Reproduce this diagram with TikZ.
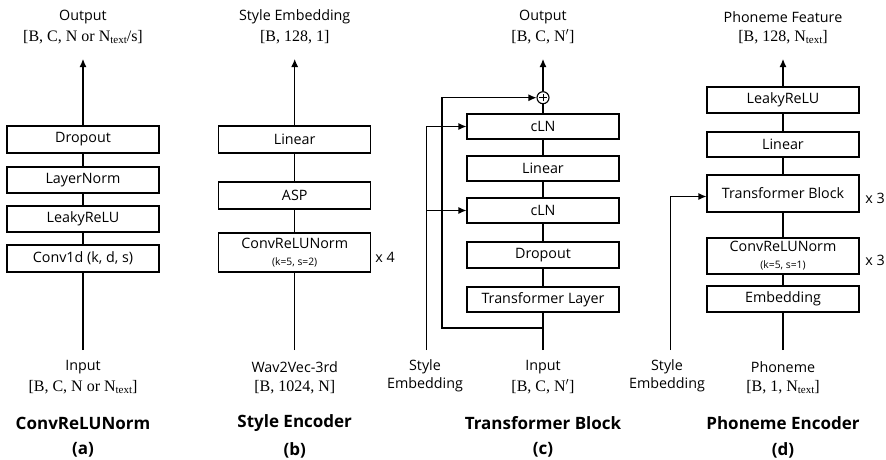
\documentclass[tikz,border=0pt]{standalone}
\usepackage{fontspec}
\newfontfamily\nsans{Open Sans}
\newfontfamily\mser{Liberation Serif}
\newcommand{\sbt}[1]{\raisebox{-2.7pt}{\fontsize{11}{12}\selectfont #1}}
\usetikzlibrary{arrows.meta}
\begin{document}
\begin{tikzpicture}[x=1pt,y=-1pt,
  every node/.style={font=\nsans\fontsize{14.3}{17}\selectfont, inner sep=0pt},
  blk/.style={draw, line width=1.1pt, minimum width=152pt, align=center},
  ln/.style={line width=1.1pt},
  arr/.style={line width=1.1pt, -{Latex[length=8pt,width=7pt]}},
  ttl/.style={font=\nsans\bfseries\fontsize{17}{20}\selectfont},
  mth/.style={font=\mser\fontsize{16}{17}\selectfont},
  sml/.style={font=\nsans\fontsize{10.3}{12}\selectfont},
  rep/.style={font=\nsans\fontsize{14.3}{17}\selectfont}]
\useasboundingbox (0,0) rectangle (886,459);

% ---------------- (a) ConvReLUNorm ----------------
\node[blk, minimum height=27pt] (a_drop) at (83,139.5) {Dropout};
\node[blk, minimum height=26pt] (a_ln) at (83,180) {LayerNorm};
\node[blk, minimum height=26pt] (a_lr) at (83,219) {LeakyReLU};
\node[blk, minimum height=27pt] (a_conv) at (83,258.5) {Conv1d (k, d, s)};
\coordinate (a_in) at (83,350);
\coordinate (a_top) at (83,59);
\node (a_out) at (83,17) {Output};
\node[mth] (a_outd) at (83,37) {[B, C, N or N\sbt{text}/s]};
\node (a_inl) at (83,367) {Input};
\node[mth] (a_ind) at (83,387) {[B, C, N or N\sbt{text}]};
\node[ttl] (a_t) at (83,423) {ConvReLUNorm};
\node[ttl] (a_l) at (83,450) {(a)};
\draw[ln] (a_in) -- (a_conv);
\draw[ln] (a_conv) -- (a_lr);
\draw[ln] (a_lr) -- (a_ln);
\draw[ln] (a_ln) -- (a_drop);
\draw[arr] (a_drop) -- (a_top);

% ---------------- (b) Style Encoder ----------------
\node[blk, minimum height=27pt] (b_lin) at (294.7,139.5) {Linear};
\node[blk, minimum height=27pt] (b_asp) at (294.7,195.5) {ASP};
\node[blk, minimum height=39pt] (b_crn) at (294.7,252.5) {ConvReLUNorm\\[0pt]{\fontsize{10.3}{12}\selectfont (k=5, s=2)}};
\node[rep] (b_x) at (385,257) {x 4};
\coordinate (b_in) at (294.7,350);
\coordinate (b_top) at (294.7,59);
\node (b_out) at (294.7,17) {Style Embedding};
\node[mth] (b_outd) at (294.7,37) {[B, 128, 1]};
\node (b_inl) at (294.7,367) {Wav2Vec-3rd};
\node[mth] (b_ind) at (294.7,387) {[B, 1024, N]};
\node[ttl] (b_t) at (294.7,423) {Style Encoder};
\node[ttl] (b_l) at (294.7,450) {(b)};
\draw[ln] (b_in) -- (b_crn);
\draw[ln] (b_crn) -- (b_asp);
\draw[ln] (b_asp) -- (b_lin);
\draw[arr] (b_lin) -- (b_top);

% ---------------- (c) Transformer Block ----------------
\node[blk, minimum height=25pt] (c_cln1) at (543,126.5) {cLN};
\node[blk, minimum height=25pt] (c_lin) at (543,168.5) {Linear};
\node[blk, minimum height=25pt] (c_cln2) at (543,210.5) {cLN};
\node[blk, minimum height=26pt] (c_drop) at (543,255) {Dropout};
\node[blk, minimum height=25pt] (c_tl) at (543,299.5) {Transformer Layer};
\node[draw, circle, line width=1.1pt, minimum size=12pt] (c_add) at (543,97.7) {};
\draw[line width=1pt] ([xshift=-3.6pt]c_add.center) -- ([xshift=3.6pt]c_add.center);
\draw[line width=1pt] ([yshift=-3.6pt]c_add.center) -- ([yshift=3.6pt]c_add.center);
\coordinate (c_in) at (543,350);
\coordinate (c_top) at (543,59);
\coordinate (c_res) at (543,328);
\coordinate (c_resl) at (442,328);
\coordinate (c_sty) at (426.7,350);
\node (c_out) at (543,17) {Output};
\node[mth] (c_outd) at (543,37) {[B, C, N$'$]};
\node (c_inl) at (543,367) {Input};
\node[mth] (c_ind) at (543,387) {[B, C, N$'$]};
\node[align=center, font=\nsans\fontsize{14.3}{18}\selectfont] (c_styl) at (425,376) {Style\\Embedding};
\node[ttl] (c_t) at (543,423) {Transformer Block};
\node[ttl] (c_l) at (543,450) {(c)};
\draw[ln] (c_in) -- (c_tl);
\draw[ln] (c_tl) -- (c_drop);
\draw[ln] (c_drop) -- (c_cln2);
\draw[ln] (c_cln2) -- (c_lin);
\draw[ln] (c_lin) -- (c_cln1);
\draw[ln] (c_cln1) -- (c_add);
\draw[arr] (c_add) -- (c_top);
\draw[arr] (c_res) -- (c_resl) |- (c_add.west);
\draw[arr] (c_sty) |- (c_cln1.west);
\draw[arr] (c_sty |- c_cln2.west) -- (c_cln2.west);

% ---------------- (d) Phoneme Encoder ----------------
\node[blk, minimum height=26pt] (d_lr) at (783,100) {LeakyReLU};
\node[blk, minimum height=25pt] (d_lin) at (783,144.5) {Linear};
\node[blk, minimum height=37pt] (d_tb) at (783,193.5) {Transformer Block};
\node[blk, minimum height=36pt] (d_crn) at (783,256) {ConvReLUNorm\\[0pt]{\fontsize{10.3}{12}\selectfont (k=5, s=1)}};
\node[blk, minimum height=26pt] (d_emb) at (783,299) {Embedding};
\node[rep] (d_x1) at (875,198) {x 3};
\node[rep] (d_x2) at (875,260) {x 3};
\coordinate (d_in) at (783,350);
\coordinate (d_top) at (783,59);
\coordinate (d_sty) at (670.7,350);
\node (d_out) at (783,17) {Phoneme Feature};
\node[mth] (d_outd) at (783,37) {[B, 128, N\sbt{text}]};
\node (d_inl) at (783,367) {Phoneme};
\node[mth] (d_ind) at (783,387) {[B, 1, N\sbt{text}]};
\node[align=center, font=\nsans\fontsize{14.3}{18}\selectfont] (d_styl) at (667,376) {Style\\Embedding};
\node[ttl] (d_t) at (783,423) {Phoneme Encoder};
\node[ttl] (d_l) at (783,450) {(d)};
\draw[ln] (d_in) -- (d_emb);
\draw[ln] (d_emb) -- (d_crn);
\draw[ln] (d_crn) -- (d_tb);
\draw[ln] (d_tb) -- (d_lin);
\draw[ln] (d_lin) -- (d_lr);
\draw[arr] (d_lr) -- (d_top);
\draw[arr] (d_sty) |- ([yshift=-3pt]d_tb.west);
\end{tikzpicture}
\end{document}
